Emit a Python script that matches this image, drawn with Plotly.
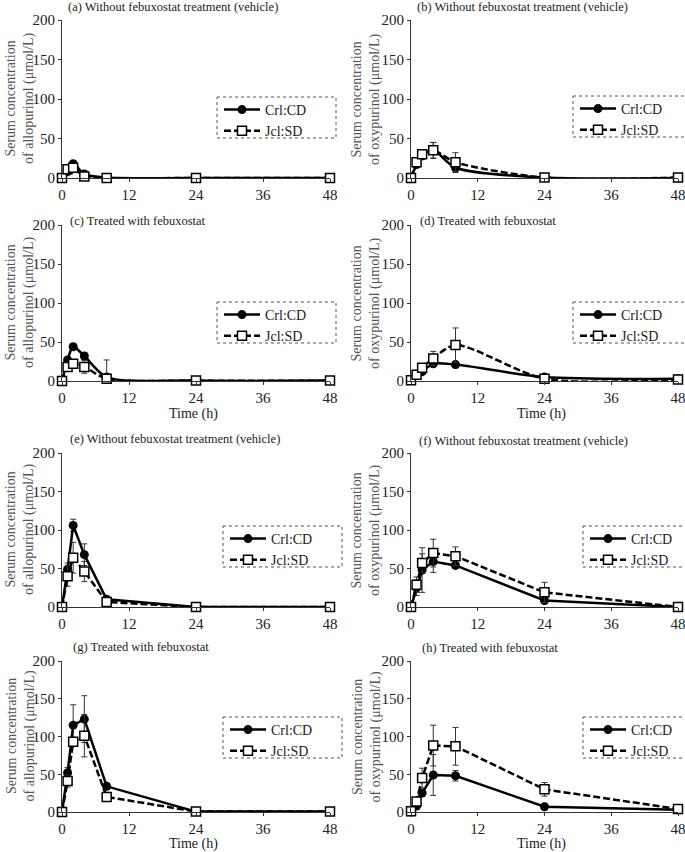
import plotly.graph_objects as go

W, H = 685, 852

times = [0, 1, 2, 4, 8, 24, 48]
x_ticks = [0, 12, 24, 36, 48]
y_ticks = [0, 50, 100, 150, 200]
series_names = ["Crl:CD", "Jcl:SD"]

panel_titles = [
    "(a) Without febuxostat treatment (vehicle)",
    "(b) Without febuxostat treatment (vehicle)",
    "(c) Treated with febuxostat",
    "(d) Treated with febuxostat",
    "(e) Without febuxostat treatment (vehicle)",
    "(f) Without febuxostat treatment (vehicle)",
    "(g) Treated with febuxostat",
    "(h) Treated with febuxostat",
]
y_titles = [
    "Serum concentration<br>of allopurinol (μmol/L)",
    "Serum concentration<br>of oxypurinol (μmol/L)",
] * 4

# values (mean) and error (SD) per panel
a_crl = [0, 8, 18, 5, 0.5, 0, 0]
a_crl_err = [0, 2, 3, 1.5, 0.3, 0, 0]
a_jcl = [0, 11, 13, 2, 0, 0, 0]
a_jcl_err = [0, 3, 3, 1, 0, 0, 0]

b_crl = [0, 17, 28, 35, 13, 0.5, 0]
b_crl_err = [0, 3, 4, 10, 6, 0.3, 0]
b_jcl = [0, 20, 30, 35, 20, 0.5, 0.5]
b_jcl_err = [0, 4, 5, 10, 12, 0.3, 0.3]

c_crl = [0, 27, 44, 32, 5, 0.5, 0.5]
c_crl_err = [0, 3, 3, 4, 2, 0, 0]
c_jcl = [0, 18, 22, 18, 3, 0.5, 0.5]
c_jcl_err = [0, 3, 3, 8, 24, 0, 0]

d_crl = [1, 7, 12, 22, 21, 5, 3]
d_crl_err = [0, 1, 2, 3, 4, 1, 1]
d_jcl = [1, 8, 17, 29, 46, 3, 2]
d_jcl_err = [0, 1, 3, 9, 22, 1, 0.5]

e_crl = [0, 49, 106, 68, 10, 0, 0]
e_crl_err = [0, 8, 8, 14, 2, 0, 0]
e_jcl = [0, 40, 64, 46, 6.5, 0, 0]
e_jcl_err = [0, 13, 20, 13, 2, 0, 0]

f_crl = [0, 25, 48, 59, 54, 8.5, 0]
f_crl_err = [0, 10, 29, 14, 4, 2, 0]
f_jcl = [0, 29, 57, 70, 66, 19, 0]
f_jcl_err = [0, 10, 12, 18, 12, 13, 0]

g_crl = [0, 52, 115, 123, 34, 0.5, 0.5]
g_crl_err = [0, 7, 27, 31, 4, 0, 0]
g_jcl = [0, 41, 93, 101, 20, 0.5, 0.5]
g_jcl_err = [0, 8, 6, 28, 6, 0, 0]

h_crl = [0, 8, 25, 49, 48, 7, 3]
h_crl_err = [0, 3, 4, 27, 7, 1, 1]
h_jcl = [1, 14, 45, 88, 87, 30, 4]
h_jcl_err = [0, 5, 13, 27, 25, 9, 1]

panels = [
    (a_crl, a_crl_err, a_jcl, a_jcl_err),
    (b_crl, b_crl_err, b_jcl, b_jcl_err),
    (c_crl, c_crl_err, c_jcl, c_jcl_err),
    (d_crl, d_crl_err, d_jcl, d_jcl_err),
    (e_crl, e_crl_err, e_jcl, e_jcl_err),
    (f_crl, f_crl_err, f_jcl, f_jcl_err),
    (g_crl, g_crl_err, g_jcl, g_jcl_err),
    (h_crl, h_crl_err, h_jcl, h_jcl_err),
]

# ---------------- layout geometry (pixels) ----------------
col_x = [(62, 330), (411, 678)]
row_y = [(20, 178), (225, 381), (453, 607), (661, 812)]
legend_pos = [(217, 97), (573, 96), (217, 302), (573, 302),
              (223, 526), (583, 526), (223, 717), (583, 717)]
title_pos = [(173, 7, "center"), (522, 7, "center"), (68, 221, "left"), (418, 221, "left"),
             (175, 439, "center"), (523, 441, "center"), (71, 647, "left"), (420, 648, "left")]
ytitle_x = [20, 366]
xtitle_y = {1: 414, 3: 844}

FONT = "Liberation Serif"


def px(xp):
    return xp / W


def py(yp):
    return 1 - yp / H


fig = go.Figure()
layout = dict(
    width=W, height=H,
    margin=dict(l=0, r=0, t=0, b=0, autoexpand=False),
    paper_bgcolor="white", plot_bgcolor="white",
    font=dict(family=FONT, size=14, color="#222"),
    annotations=[], shapes=[],
)

for i, (crl, crl_err, jcl, jcl_err) in enumerate(panels):
    row, col = divmod(i, 2)
    sfx = "" if i == 0 else str(i + 1)
    xa, ya = "x" + sfx, "y" + sfx
    leg = "legend" + sfx
    shape = "spline" if row < 2 else "linear"

    fig.add_trace(go.Scatter(
        x=times, y=crl, name=series_names[0], xaxis=xa, yaxis=ya, legend=leg,
        mode="lines+markers", cliponaxis=False,
        line=dict(color="black", width=2.5, shape=shape, smoothing=0.8),
        marker=dict(symbol="circle", size=9, color="black"),
        error_y=dict(type="data", array=crl_err, visible=True, color="#333",
                     thickness=1, width=3),
    ))
    fig.add_trace(go.Scatter(
        x=times, y=jcl, name=series_names[1], xaxis=xa, yaxis=ya, legend=leg,
        mode="lines+markers", cliponaxis=False,
        line=dict(color="black", width=2.5, dash="7px,3px", shape=shape, smoothing=0.8),
        marker=dict(symbol="square", size=9, color="white",
                    line=dict(color="black", width=1.5)),
        error_y=dict(type="data", array=jcl_err, visible=True, color="#333",
                     thickness=1, width=3),
    ))

    x0, x1 = col_x[col]
    y0, y1 = row_y[row]
    axis_common = dict(showline=True, linecolor="#333", linewidth=1,
                       ticks="outside", ticklen=3, tickcolor="#333",
                       showgrid=False, zeroline=False, fixedrange=True, automargin=False,
                       tickfont=dict(family=FONT, size=15, color="#222"))
    layout["xaxis" + sfx] = dict(domain=[px(x0), px(x1)], anchor=ya, range=[0, 48],
                                 tickvals=x_ticks, ticklabeloverflow="allow", **axis_common)
    layout["yaxis" + sfx] = dict(domain=[py(y1), py(y0)], anchor=xa, range=[0, 200],
                                 tickvals=y_ticks, **axis_common)

    lx, ly = legend_pos[i]
    layout[leg] = dict(x=px(lx + 2), y=py(ly - 3), xanchor="left", yanchor="top",
                       bgcolor="rgba(0,0,0,0)", borderwidth=0,
                       font=dict(family=FONT, size=14, color="#222"),
                       tracegroupgap=0, itemwidth=36)
    layout["shapes"].append(dict(type="rect", xref="paper", yref="paper",
                                 x0=px(lx), x1=px(lx + 119), y0=py(ly), y1=py(ly + 41),
                                 line=dict(color="#555", width=1, dash="dot")))

    tx, ty, anc = title_pos[i]
    layout["annotations"].append(dict(
        text=panel_titles[i], x=px(tx), y=py(ty), xref="paper", yref="paper",
        xanchor=anc, yanchor="middle", showarrow=False,
        font=dict(family=FONT, size=12.5, color="#222")))

    layout["annotations"].append(dict(
        text=y_titles[i], x=px(ytitle_x[col]), y=py((y0 + y1) / 2), xref="paper", yref="paper",
        xanchor="center", yanchor="middle", textangle=-90, showarrow=False,
        font=dict(family=FONT, size=14, color="#555")))

    if row in xtitle_y:
        layout["annotations"].append(dict(
            text="Time (h)", x=px((x0 + x1) / 2 - 3), y=py(xtitle_y[row]), xref="paper", yref="paper",
            xanchor="center", yanchor="middle", showarrow=False, borderpad=0,
            font=dict(family=FONT, size=14, color="#222")))

fig.update_layout(**layout)
fig.write_html("out.html", config={"displayModeBar": False},
               post_script="document.body.style.margin='0';")
